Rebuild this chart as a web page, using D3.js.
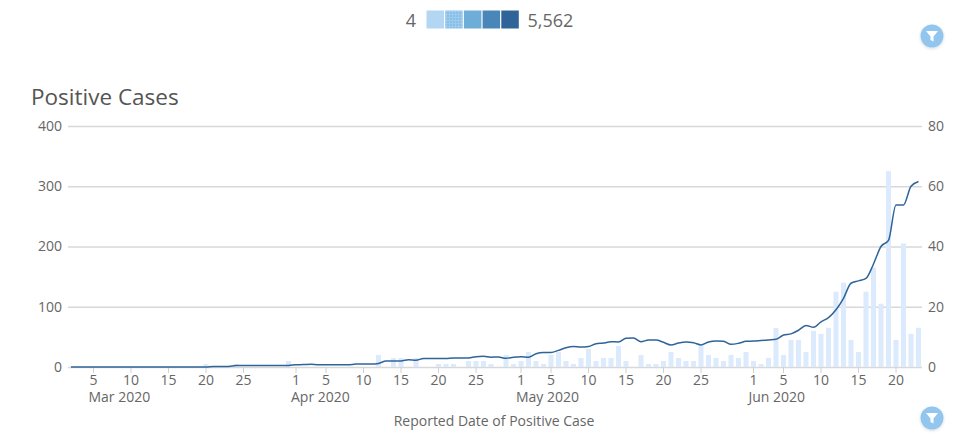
<!DOCTYPE html>
<html>
<head>
<meta charset="utf-8">
<script src="https://cdn.jsdelivr.net/npm/d3@7"></script>
<style>
  html, body { margin: 0; padding: 0; background: #fff; }
  svg { display: block; }
  text { font-family: "Open Sans", sans-serif; fill: #666; }
  .domain { display: none; }
</style>
</head>
<body>
<div id="chart"></div>
<script>
  var width = 964, height = 447;
  var svg = d3.select("#chart").append("svg").attr("width", width).attr("height", height);

  // daily counts from Mar 2 2020, one entry per day
  var bars = [
    0,0,0,0,0,0,0,0,0,0,0,0,0,0,0,0,0,0,1,0,0,0,1,0,0,0,0,0,0,2,
    0,0,0,0,0,0,0,0,0,0,0,4,0,3,3,0,3,0,0,1,1,1,0,2,2,2,1,0,4,1,
    2,5,2,1,4,5,2,1,3,6,2,3,3,7,2,0,4,1,1,2,5,3,2,2,7,4,3,2,4,3,5,
    2,1,3,13,4,9,9,5,12,11,13,25,28,9,5,25,33,21,65,9,41,11,13
  ];
  var line = [
    0,0,0,0,0,0,0,0,0,0,0,0,0,0,0,0,0,0,0,1,1,1,2.5,2.5,2.5,2.5,2.5,2.5,2.5,2.5,
    3.8,4,4.5,3.6,3.6,3.6,3.6,3.6,5,5,5,6,10,10,10,12.2,11.2,14,14,14,14,15,15,15,17.2,17.8,16.2,16.6,14.4,16.2,
    17,16,22,24,24,27.6,32,34,33,34,38.7,39.8,42,41.5,47.6,48,42,44.8,44.8,41,36.5,39.8,41.5,40.4,36.5,41.5,43,42.6,37.6,39.3,42.6,
    43,44,45,46,53,55,61,69,66,75,82,95,114,139,143,147,171,200,210,269,269,300,308
  ];
  var start = new Date(2020, 2, 2);
  var data = bars.map(function(b, i) {
    return { date: d3.timeDay.offset(start, i), bar: b, line: line[i] };
  });

  var x = d3.scaleTime().domain([start, d3.timeDay.offset(start, bars.length - 1)]).range([71, 918.5]);
  var yLeft = d3.scaleLinear().domain([0, 400]).range([367, 126]);
  var yRight = d3.scaleLinear().domain([0, 80]).range([367, 126]);

  var defs = svg.append("defs");
  var pat = defs.append("pattern").attr("id", "dots").attr("width", 3).attr("height", 3)
    .attr("patternUnits", "userSpaceOnUse");
  pat.append("rect").attr("width", 3).attr("height", 3).attr("fill", "#9ccbee");
  pat.append("circle").attr("cx", 1).attr("cy", 1).attr("r", 0.8).attr("fill", "#6fb0de");
  defs.append("filter").attr("id", "shadow").attr("x", "-30%").attr("y", "-30%").attr("width", "160%").attr("height", "160%")
    .append("feDropShadow").attr("dx", 0).attr("dy", 1).attr("stdDeviation", 1.5)
    .attr("flood-color", "#000").attr("flood-opacity", 0.15);

  // colour legend
  var legend = ["#b3d7f3", "url(#dots)", "#6eadd8", "#4a86b8", "#2f6499"];
  svg.selectAll(".swatch").data(legend).enter().append("rect")
    .attr("class", "swatch")
    .attr("x", function(d, i) { return 426.5 + i * 18.7; })
    .attr("y", 10.5).attr("width", 17.5).attr("height", 18)
    .attr("fill", function(d) { return d; });
  svg.append("text").attr("x", 416).attr("y", 26.5).attr("text-anchor", "end").style("font-size", "18px").text("4");
  svg.append("text").attr("x", 527.5).attr("y", 26.5).style("font-size", "18px").text("5,562");

  svg.append("text").attr("x", 31).attr("y", 105).style("font-size", "22.5px").style("fill", "#555").text("Positive Cases");

  // grid and value axes
  var left = svg.append("g").attr("transform", "translate(68,0)")
    .call(d3.axisLeft(yLeft).tickValues([0, 100, 200, 300, 400]).tickSize(-854).tickPadding(6));
  left.selectAll("line").attr("stroke", "#d8d8d8").attr("stroke-width", 1.5);
  left.selectAll("text").style("font-size", "14px").attr("x", -6);

  var right = svg.append("g").attr("transform", "translate(922,0)")
    .call(d3.axisRight(yRight).tickValues([0, 20, 40, 60, 80]).tickSize(0).tickPadding(6));
  right.selectAll("text").style("font-size", "14px");

  // day ticks
  var days = data.map(function(d) { return d.date; }).filter(function(d) {
    var n = d.getDate();
    return n === 1 || (n % 5 === 0 && n < 30);
  });
  var bottom = svg.append("g").attr("transform", "translate(0,367)")
    .call(d3.axisBottom(x).tickValues(days).tickFormat(d3.timeFormat("%-d")).tickSize(6).tickPadding(2).offset(0));
  bottom.selectAll("line").attr("stroke", "#d0d0d0").attr("stroke-width", 1);
  bottom.selectAll("text").style("font-size", "14px").style("fill", "#666");

  // month labels sit under the first tick of each month
  var months = [new Date(2020, 2, 5), new Date(2020, 3, 1), new Date(2020, 4, 1), new Date(2020, 5, 1)];
  svg.selectAll(".month").data(months).enter().append("text")
    .attr("class", "month")
    .attr("x", function(d) { return x(d) - 5; })
    .attr("y", 402)
    .style("font-size", "14px")
    .text(d3.timeFormat("%b %Y"));

  svg.append("text").attr("x", 494).attr("y", 426).attr("text-anchor", "middle")
    .style("font-size", "14px").text("Reported Date of Positive Case");

  svg.selectAll(".bar").data(data).enter().append("rect")
    .attr("class", "bar")
    .attr("x", function(d) { return x(d.date) - 2.5; })
    .attr("y", function(d) { return yRight(d.bar); })
    .attr("width", 5)
    .attr("height", function(d) { return yRight(0) - yRight(d.bar); })
    .attr("fill", "#dbeafd");

  var path = d3.line()
    .x(function(d) { return x(d.date); })
    .y(function(d) { return yLeft(d.line); })
    .curve(d3.curveMonotoneX);
  svg.append("path").datum(data).attr("d", path)
    .attr("fill", "none").attr("stroke", "#2f6499").attr("stroke-width", 1.5);

  // filter buttons
  var buttons = svg.selectAll(".button").data([36, 418]).enter().append("g")
    .attr("class", "button")
    .attr("transform", function(d) { return "translate(932," + d + ")"; });
  buttons.append("circle").attr("r", 11.5).attr("fill", "#93c6ee").attr("filter", "url(#shadow)");
  buttons.append("path").attr("d", "M-6,-5H6L1.5,0.5V5.5L-1.5,4V0.5Z").attr("fill", "#fff");
</script>
</body>
</html>
